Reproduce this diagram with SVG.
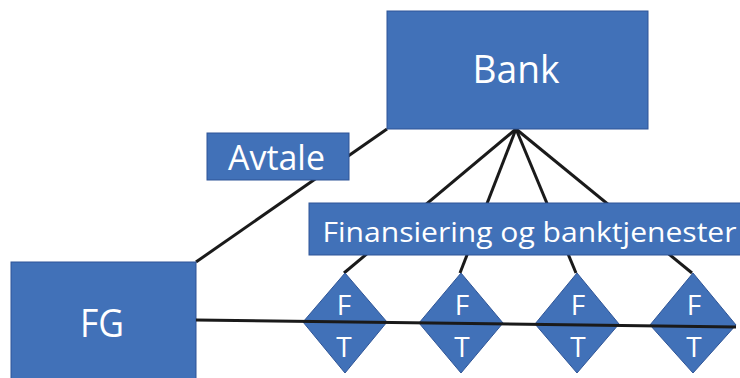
<svg xmlns="http://www.w3.org/2000/svg" width="740" height="378" viewBox="0 0 740 378">
<style>
.box{fill:#4171B8;stroke:#2F5597;stroke-width:1}
.t{font-family:"Open Sans","Liberation Sans",sans-serif;fill:#fff;text-anchor:middle}
.ln{stroke:#1a1a1a;stroke-width:3;fill:none;stroke-linecap:butt}
</style>
<rect width="740" height="378" fill="#fff"/>
<g id="connectors">
<line class="ln" x1="387" y1="129" x2="196" y2="262"/>
<line class="ln" x1="516" y1="129" x2="344" y2="273"/>
<line class="ln" x1="516" y1="129" x2="460" y2="273"/>
<line class="ln" x1="516" y1="129" x2="576" y2="273"/>
<line class="ln" x1="516" y1="129" x2="692" y2="273"/>
</g>
<g id="bank"><rect class="box" x="387" y="11" width="261" height="118"/><text class="t" x="516" y="83" font-size="39" textLength="87" lengthAdjust="spacingAndGlyphs">Bank</text></g>
<g id="avtale"><rect class="box" x="207" y="133" width="142" height="47"/><text class="t" x="276.5" y="170" font-size="35" textLength="97" lengthAdjust="spacingAndGlyphs">Avtale</text></g>
<g id="fg"><rect class="box" x="11" y="262" width="185" height="120"/><text class="t" x="102" y="337" font-size="38" textLength="44" lengthAdjust="spacingAndGlyphs">FG</text></g>
<g id="finansiering"><rect class="box" x="309" y="203" width="435" height="52"/><text class="t" x="529.5" y="242" font-size="28" textLength="414" lengthAdjust="spacingAndGlyphs">Finansiering og banktjenester</text></g>
<g id="ft1"><polygon class="box" points="345,273 387,322 345,373 303,322"/><text class="t" x="344" y="315" font-size="28">F</text><text class="t" x="344" y="357" font-size="28">T</text></g>
<g id="ft2"><polygon class="box" points="461,273 503,323 461,373 419,323"/><text class="t" x="462" y="315" font-size="28">F</text><text class="t" x="462" y="357" font-size="28">T</text></g>
<g id="ft3"><polygon class="box" points="577,273 619,324 577,373 535,324"/><text class="t" x="578" y="315" font-size="28">F</text><text class="t" x="578" y="357" font-size="28">T</text></g>
<g id="ft4"><polygon class="box" points="693,273 736,325 693,373 650,325"/><text class="t" x="694" y="315" font-size="28">F</text><text class="t" x="694" y="357" font-size="28">T</text></g>
<g id="connectors-front">
<line class="ln" x1="196" y1="320" x2="736" y2="327"/>
</g>
</svg>
